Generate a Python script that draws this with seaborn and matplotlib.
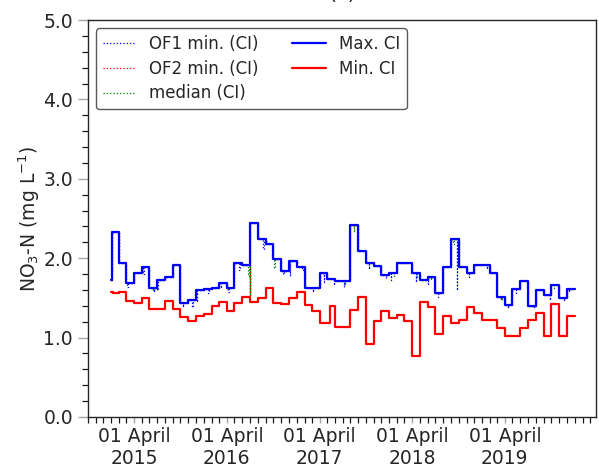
import matplotlib
matplotlib.use('Agg')
import matplotlib.pyplot as plt
import matplotlib.dates as mdates
from matplotlib.ticker import MultipleLocator, FormatStrFormatter
import pandas as pd
import seaborn as sns

# ---------------- data ----------------
max_dates = ['2015-01-01', '2015-01-05', '2015-02-01', '2015-03-01', '2015-04-01', '2015-05-01',
             '2015-06-01', '2015-07-01', '2015-08-01', '2015-09-01', '2015-10-01', '2015-11-01',
             '2015-12-01', '2016-01-01', '2016-02-01', '2016-03-01', '2016-04-01', '2016-05-01',
             '2016-06-01', '2016-07-01', '2016-08-01', '2016-09-01', '2016-10-01', '2016-11-01',
             '2016-12-01', '2017-01-01', '2017-02-01', '2017-04-01', '2017-05-01', '2017-06-01',
             '2017-08-01', '2017-09-01', '2017-10-01', '2017-11-01', '2017-12-01', '2018-01-01',
             '2018-02-01', '2018-04-01', '2018-05-01', '2018-06-01', '2018-07-01', '2018-08-01',
             '2018-09-01', '2018-10-01', '2018-11-01', '2018-12-01', '2019-02-01', '2019-03-01',
             '2019-04-01', '2019-05-01', '2019-06-01', '2019-07-01', '2019-08-01', '2019-09-01',
             '2019-10-01', '2019-11-01', '2019-12-01']
max_vals = [1.73, 2.33, 1.94, 1.69, 1.82, 1.885,
            1.62, 1.725, 1.76, 1.92, 1.44, 1.47,
            1.60, 1.61, 1.63, 1.69, 1.62, 1.935,
            1.92, 2.44, 2.24, 2.175, 1.99, 1.84,
            1.96, 1.885, 1.62, 1.82, 1.74, 1.71,
            2.42, 2.09, 1.94, 1.90, 1.79, 1.82,
            1.935, 1.82, 1.725, 1.76, 1.56, 1.885,
            2.24, 1.89, 1.82, 1.92, 1.82, 1.51,
            1.41, 1.61, 1.71, 1.40, 1.60, 1.54,
            1.66, 1.50, 1.61]

min_dates = ['2015-01-01', '2015-01-10', '2015-02-01', '2015-03-01', '2015-04-01', '2015-05-01',
             '2015-06-01', '2015-08-01', '2015-09-01', '2015-10-01', '2015-11-01', '2015-12-01',
             '2016-01-01', '2016-02-01', '2016-03-01', '2016-04-01', '2016-05-01', '2016-06-01',
             '2016-07-01', '2016-08-01', '2016-09-01', '2016-10-01', '2016-11-01', '2016-12-01',
             '2017-01-01', '2017-02-01', '2017-03-01', '2017-04-01', '2017-05-12', '2017-06-01',
             '2017-08-01', '2017-09-01', '2017-10-01', '2017-11-01', '2017-12-01', '2018-01-01',
             '2018-02-01', '2018-03-01', '2018-04-01', '2018-05-01', '2018-06-01', '2018-07-01',
             '2018-08-01', '2018-09-01', '2018-10-01', '2018-11-01', '2018-12-01', '2019-01-01',
             '2019-03-01', '2019-04-01', '2019-06-01', '2019-07-01', '2019-08-01', '2019-09-01',
             '2019-10-01', '2019-11-01', '2019-12-01']
min_vals = [1.58, 1.56, 1.58, 1.46, 1.44, 1.50,
            1.36, 1.465, 1.36, 1.26, 1.21, 1.27,
            1.30, 1.40, 1.45, 1.34, 1.43, 1.51,
            1.45, 1.50, 1.62, 1.43, 1.42, 1.50,
            1.58, 1.41, 1.34, 1.19, 1.40, 1.13,
            1.35, 1.51, 0.92, 1.21, 1.33, 1.25,
            1.28, 1.21, 0.77, 1.45, 1.39, 1.05,
            1.27, 1.19, 1.22, 1.38, 1.31, 1.22,
            1.12, 1.02, 1.12, 1.22, 1.31, 1.02,
            1.42, 1.02, 1.27]

end_date = '2020-01-01'

# one-day dips of the daily dotted series below the Max. CI steps
of1_dip_dates = ['2015-03-06', '2015-05-08', '2015-06-20', '2015-07-02', '2015-10-12', '2015-11-17',
                 '2015-12-06', '2016-01-19', '2016-03-10', '2016-04-07', '2016-05-20', '2016-07-01',
                 '2016-08-23', '2016-11-10', '2016-12-04', '2017-01-24', '2017-03-05', '2017-04-17',
                 '2017-05-27', '2017-07-05', '2017-10-12', '2017-12-18', '2018-01-07', '2018-04-16',
                 '2018-06-02', '2018-07-11', '2018-09-25', '2018-11-10', '2019-01-20', '2019-03-15',
                 '2019-04-12', '2019-05-15', '2019-07-25', '2019-09-25', '2019-11-20', '2019-12-10']
of1_dip_vals = [1.64, 1.80, 1.57, 1.60, 1.385, 1.385,
                1.45, 1.56, 1.62, 1.58, 1.85, 1.54,
                2.12, 1.80, 1.77, 1.85, 1.58, 1.70,
                1.66, 1.64, 1.86, 1.75, 1.73, 1.70,
                1.68, 1.515, 1.60, 1.76, 1.87, 1.47,
                1.37, 1.56, 1.37, 1.47, 1.47, 1.58]

of2_dip_dates = ['2016-07-01']
of2_dip_vals = [1.54]

med_dip_dates = ['2015-06-15', '2016-04-05', '2016-06-25', '2016-07-01', '2016-10-05', '2017-07-10',
                 '2017-08-15', '2018-01-20', '2018-04-20', '2018-06-15', '2018-09-10', '2019-03-20',
                 '2019-07-15', '2019-10-10']
med_dip_vals = [1.59, 1.60, 1.77, 1.54, 1.88, 1.66,
                2.33, 1.78, 1.76, 1.72, 2.18, 1.48,
                1.38, 1.62]

title_text = '(c)'
y_label = 'NO$_3$-N (mg L$^{-1}$)'
labels = ['OF1 min. (CI)', 'OF2 min. (CI)', 'median (CI)', 'Max. CI', 'Min. CI']


# ---------------- helpers ----------------
def step_frame(dates, vals):
    d = list(pd.to_datetime(dates)) + [pd.Timestamp(end_date)]
    v = list(vals) + [vals[-1]]
    return pd.DataFrame({'date': d, 'value': v})


def dipped_frame(dates, vals, dip_dates, dip_vals):
    base = pd.Series(vals, index=pd.to_datetime(dates))
    pts = dict(zip(pd.to_datetime(dates), vals))
    for d, v in zip(pd.to_datetime(dip_dates), dip_vals):
        back = d + pd.Timedelta(days=1)
        if back not in pts:
            pts[back] = base.asof(back)
        pts[d] = v
    s = pd.Series(pts).sort_index()
    d = list(s.index) + [pd.Timestamp(end_date)]
    v = list(s.values) + [s.values[-1]]
    return pd.DataFrame({'date': d, 'value': v})


# ---------------- figure ----------------
sns.set_style('ticks')
plt.rcParams['font.family'] = ['DejaVu Sans']

fig = plt.figure(figsize=(5.99, 4.68), dpi=100)
ax = fig.add_axes([0.1464, 0.109, 0.8486, 0.848])

common = dict(x='date', y='value', estimator=None, sort=False, ax=ax,
              drawstyle='steps-post')

sns.lineplot(data=dipped_frame(max_dates, max_vals, of1_dip_dates, of1_dip_vals),
             color='blue', lw=0.9, linestyle=':', label=labels[0], **common)
sns.lineplot(data=dipped_frame(max_dates, max_vals, of2_dip_dates, of2_dip_vals),
             color='red', lw=0.9, linestyle=':', label=labels[1], **common)
sns.lineplot(data=dipped_frame(max_dates, max_vals, med_dip_dates, med_dip_vals),
             color='green', lw=0.9, linestyle=':', label=labels[2], **common)
sns.lineplot(data=step_frame(max_dates, max_vals),
             color='blue', lw=1.6, label=labels[3], **common)
sns.lineplot(data=step_frame(min_dates, min_vals),
             color='red', lw=1.6, label=labels[4], **common)

ax.set_xlim(pd.Timestamp('2014-10-01'), pd.Timestamp('2020-03-25'))
ax.set_ylim(0, 5)

ax.xaxis.set_major_locator(mdates.MonthLocator(bymonth=4, bymonthday=1))
ax.xaxis.set_major_formatter(mdates.DateFormatter('%d %B\n%Y'))
ax.xaxis.set_minor_locator(mdates.MonthLocator())
ax.yaxis.set_major_locator(MultipleLocator(1.0))
ax.yaxis.set_minor_locator(MultipleLocator(0.2))
ax.yaxis.set_major_formatter(FormatStrFormatter('%.1f'))

ax.tick_params(axis='both', which='major', labelsize=13.5, color='0.65', width=1.0)
ax.tick_params(axis='y', which='major', length=7)
ax.tick_params(axis='x', which='major', length=4)
ax.tick_params(axis='both', which='minor', color='0.1', length=4, width=0.9)

for sp in ax.spines.values():
    sp.set_visible(True)
    sp.set_color('0.15')
    sp.set_linewidth(1.0)

ax.set_xlabel('')
ax.set_ylabel(y_label, fontsize=13.5, labelpad=1)
ax.set_title(title_text, fontsize=15, pad=15)

leg = ax.legend(loc='upper left', ncol=2, fontsize=12, frameon=True, fancybox=True,
                edgecolor='0.35', framealpha=1.0, labelspacing=0.4)
leg.get_frame().set_linewidth(1.0)

fig.savefig('out.png', dpi=100)
